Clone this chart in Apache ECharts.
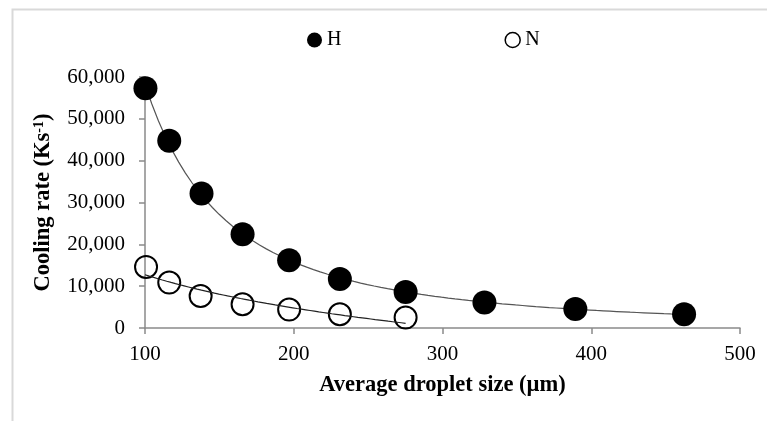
<!DOCTYPE html>
<html>
<head>
<meta charset="utf-8">
<script src="https://cdn.jsdelivr.net/npm/echarts@6/dist/echarts.min.js"></script>
<style>html,body{margin:0;padding:0;background:#fff}#c{width:767px;height:421px}</style>
</head>
<body>
<div id="c"></div>
<script>
// Data
const hSize = [100.3, 116.3, 138, 165.6, 196.9, 231, 275.2, 328.2, 389.3, 462.4];
const hRate = [57300, 44750, 32150, 22420, 16200, 11720, 8610, 6080, 4550, 3280];
const nSize = [100.7, 116.3, 137.4, 165.6, 196.9, 231, 275.2];
const nRate = [14600, 10860, 7650, 5670, 4400, 3280, 2490];
const xTicks = [100, 200, 300, 400, 500];
const yTicks = [0, 10000, 20000, 30000, 40000, 50000, 60000];
const seriesNames = ['H', 'N'];

// Trendlines fitted (least squares) to the data above, as in the source chart
function powerFit(xs, ys) { // y = a*x^b
  const n = xs.length; let sx=0, sy=0, sxx=0, sxy=0;
  for (let i=0;i<n;i++){const lx=Math.log(xs[i]), ly=Math.log(ys[i]); sx+=lx; sy+=ly; sxx+=lx*lx; sxy+=lx*ly;}
  const b=(n*sxy-sx*sy)/(n*sxx-sx*sx); const a=Math.exp((sy-b*sx)/n);
  return x => a*Math.pow(x,b);
}
function logFit(xs, ys) { // y = a + b*ln(x)
  const n = xs.length; let sx=0, sy=0, sxx=0, sxy=0;
  for (let i=0;i<n;i++){const lx=Math.log(xs[i]); sx+=lx; sy+=ys[i]; sxx+=lx*lx; sxy+=lx*ys[i];}
  const b=(n*sxy-sx*sy)/(n*sxx-sx*sx); const a=(sy-b*sx)/n;
  return x => a + b*Math.log(x);
}
function sample(f, x0, x1, steps) {
  const out=[]; for (let i=0;i<=steps;i++){const x=x0+(x1-x0)*i/steps; out.push([x,f(x)]);} return out;
}
const hFit = powerFit(hSize, hRate);
const nFit = logFit(nSize, nRate);
const hTrend = sample(hFit, 100, hSize[hSize.length-1], 80);
const nTrend = sample(nFit, 100, nSize[nSize.length-1], 60);

const serif = '"Liberation Serif", "Times New Roman", serif';
const axisColor = '#8a8a8a';
const chart = echarts.init(document.getElementById('c'), null, {renderer: 'canvas'});
chart.setOption({
  animation: false,
  backgroundColor: '#fff',
  graphic: [{
    type: 'rect', left: 10, top: 7, z: -10,
    shape: {x: 0, y: 0, width: 820, height: 500},
    style: {fill: 'none', stroke: '#d9d9d9', lineWidth: 2}
  }],
  legend: {
    left: 307, top: 30, padding: 0,
    itemWidth: 15, itemHeight: 15, itemGap: 163,
    textStyle: {fontFamily: serif, fontSize: 20, color: '#000'},
    data: [
      {name: seriesNames[0], icon: 'circle', itemStyle: {color: '#000', borderWidth: 0}},
      {name: seriesNames[1], icon: 'circle', itemStyle: {color: '#fff', borderColor: '#000', borderWidth: 1.5}}
    ]
  },
  grid: {left: 145, right: 27, top: 77, bottom: 93},
  xAxis: {
    type: 'value', min: xTicks[0], max: xTicks[xTicks.length-1], interval: 100,
    name: 'Average droplet size (µm)', nameLocation: 'middle', nameGap: 46,
    nameTextStyle: {fontFamily: serif, fontSize: 22.5, fontWeight: 'bold', color: '#000'},
    axisLine: {show: true, onZero: false, lineStyle: {color: axisColor, width: 1.5}},
    axisTick: {show: true, length: 6, lineStyle: {color: axisColor, width: 1.5}},
    axisLabel: {fontFamily: serif, fontSize: 21, color: '#000', margin: 16},
    splitLine: {show: false}
  },
  yAxis: {
    type: 'value', min: yTicks[0], max: yTicks[yTicks.length-1], interval: 10000,
    name: '{a|Cooling rate (Ks}{s|-1}{a|)}', nameLocation: 'middle', nameGap: 90, nameRotate: 90,
    nameTextStyle: {
      rich: {
        a: {fontFamily: serif, fontSize: 22.5, fontWeight: 'bold', color: '#000'},
        s: {fontFamily: serif, fontSize: 14, fontWeight: 'bold', color: '#000', verticalAlign: 'top'}
      }
    },
    axisLine: {show: true, onZero: false, lineStyle: {color: axisColor, width: 1.5}},
    axisTick: {show: true, length: 6, lineStyle: {color: axisColor, width: 1.5}},
    axisLabel: {fontFamily: serif, fontSize: 21, color: '#000', margin: 20,
      formatter: v => v.toLocaleString('en-US')},
    splitLine: {show: false}
  },
  series: [
    {
      name: seriesNames[0], type: 'scatter', symbol: 'circle', symbolSize: 24, z: 3,
      itemStyle: {color: '#000', borderWidth: 0, opacity: 1},
      data: hSize.map((x, i) => [x, hRate[i]])
    },
    {
      name: seriesNames[1], type: 'scatter', symbol: 'circle', symbolSize: 22, z: 3,
      itemStyle: {color: 'rgba(255,255,255,0)', borderColor: '#000', borderWidth: 2, opacity: 1},
      data: nSize.map((x, i) => [x, nRate[i]])
    },
    {
      name: 'H trend', type: 'line', showSymbol: false, symbol: 'none', z: 2, smooth: false,
      lineStyle: {color: '#555', width: 1.2}, data: hTrend, silent: true
    },
    {
      name: 'N trend', type: 'line', showSymbol: false, symbol: 'none', z: 4, smooth: false,
      lineStyle: {color: '#222', width: 1.2}, data: nTrend, silent: true
    }
  ]
});
</script>
</body>
</html>
